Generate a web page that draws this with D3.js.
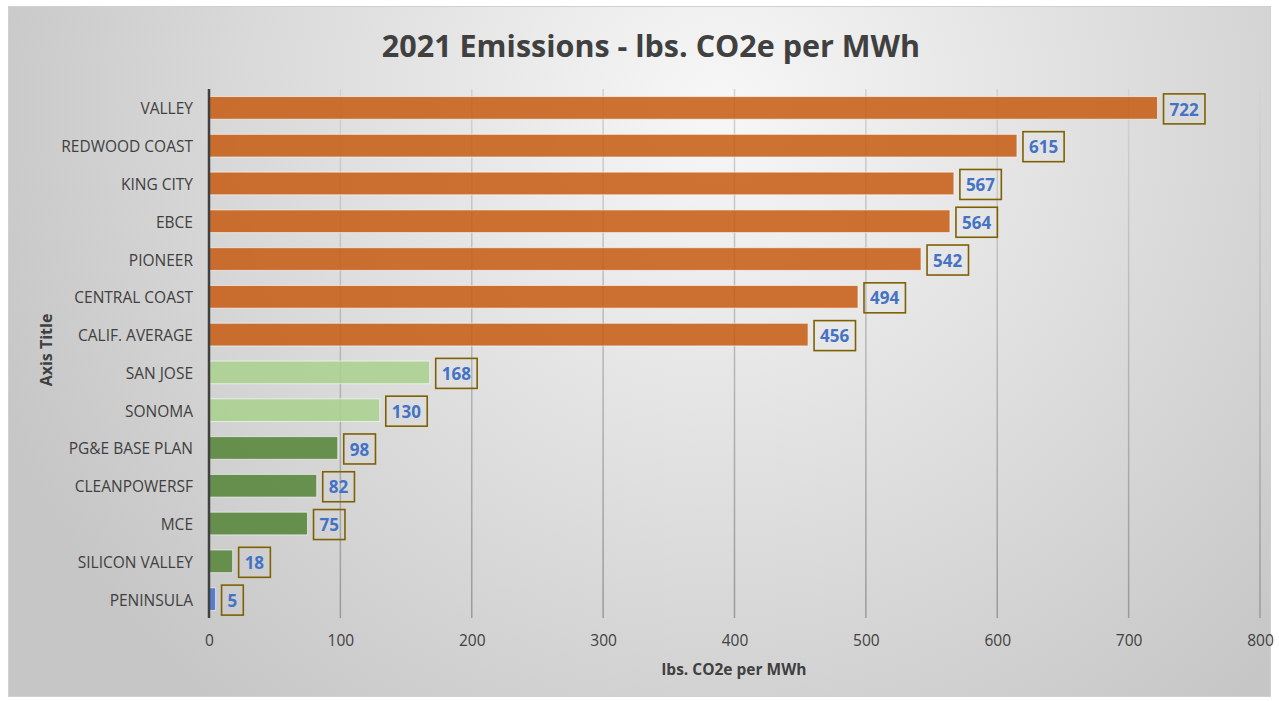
<!DOCTYPE html>
<html><head><meta charset="utf-8">
<script src="https://cdn.jsdelivr.net/npm/d3@7"></script>
<style>body{margin:0;background:#fff}svg{display:block}</style>
</head><body>
<script>
const categories = ["VALLEY","REDWOOD COAST","KING CITY","EBCE","PIONEER","CENTRAL COAST","CALIF. AVERAGE","SAN JOSE","SONOMA","PG&E BASE PLAN","CLEANPOWERSF","MCE","SILICON VALLEY","PENINSULA"];
const values = [722,615,567,564,542,494,456,168,130,98,82,75,18,5];
const groups = ["high","high","high","high","high","high","high","mid","mid","low","low","low","low","min"];
const xTicks = [0,100,200,300,400,500,600,700,800];
const colors = {high:"#C55A11", mid:"#A9D18E", low:"#548235", min:"#4472C4"};

const W=1279,H=701;
const svg=d3.select("body").append("svg").attr("width",W).attr("height",H);
const defs=svg.append("defs");
const rg=defs.append("radialGradient").attr("id","bg").attr("gradientUnits","userSpaceOnUse")
  .attr("cx",720).attr("cy",110).attr("r",780);
rg.append("stop").attr("offset","0").attr("stop-color","#f7f7f7");
rg.append("stop").attr("offset","1").attr("stop-color","#c6c6c6");
const gg=defs.append("linearGradient").attr("id","grid").attr("gradientUnits","userSpaceOnUse")
  .attr("x1",0).attr("y1",90).attr("x2",0).attr("y2",618);
gg.append("stop").attr("offset","0").attr("stop-color","#d2d2d2");
gg.append("stop").attr("offset","1").attr("stop-color","#9a9a9a");

svg.append("rect").attr("x",8.5).attr("y",6.5).attr("width",1262).attr("height",690)
  .attr("fill","url(#bg)").attr("stroke","#d0d0d0").attr("stroke-width",1);

const x=d3.scaleLinear().domain([0,800]).range([209,1260]);
const y=d3.scaleBand().domain(categories).range([89,618]).paddingInner(0.4).paddingOuter(0.2);

// gridlines
svg.append("g").selectAll("line").data(xTicks.filter(d=>d>0)).join("line")
  .attr("x1",d=>x(d)).attr("x2",d=>x(d)).attr("y1",89).attr("y2",618)
  .attr("stroke","url(#grid)").attr("stroke-width",1.5);

// bars
svg.append("g").selectAll("rect").data(categories).join("rect")
  .attr("x",x(0)).attr("y",d=>y(d)).attr("height",y.bandwidth())
  .attr("width",(d,i)=>x(values[i])-x(0))
  .attr("fill",(d,i)=>colors[groups[i]]).attr("fill-opacity",0.85)
  .attr("stroke","#ffffff").attr("stroke-opacity",0.6).attr("stroke-width",1);

// axis line
svg.append("line").attr("x1",x(0)).attr("x2",x(0)).attr("y1",89).attr("y2",618)
  .attr("stroke","#404040").attr("stroke-width",2.5);

// category labels
const yAxis=d3.axisLeft(y).tickSize(0).tickPadding(16);
const ya=svg.append("g").attr("transform",`translate(${x(0)},1.5)`).call(yAxis);
ya.select(".domain").remove();
ya.selectAll("text").attr("font-family","Open Sans, sans-serif").attr("font-size",15.5).attr("fill","#404040");

// x axis tick labels
const xAxis=d3.axisBottom(x).tickValues(xTicks).tickSize(0).tickPadding(17);
const xa=svg.append("g").attr("transform","translate(0,618)").call(xAxis);
xa.select(".domain").remove();
xa.selectAll("text").attr("font-family","Open Sans, sans-serif").attr("font-size",15.5).attr("fill","#404040");

// data labels
const lab=svg.append("g").selectAll("g").data(categories).join("g");
lab.each(function(d,i){
  const g=d3.select(this);
  const t=g.append("text").attr("x",x(values[i])+12).attr("y",y(d)+y.bandwidth()/2+1.5)
    .attr("dy","0.36em").attr("font-family","Open Sans, sans-serif").attr("font-weight",700)
    .attr("font-size",17).attr("fill","#4472C4").text(values[i]);
  const bb=t.node().getBBox();
  g.insert("rect","text").attr("x",x(values[i])+6).attr("y",y(d)+y.bandwidth()/2-14)
    .attr("width",bb.width+12).attr("height",30)
    .attr("fill","none").attr("stroke","#7F6000").attr("stroke-width",1.6);
});

// title
svg.append("text").attr("x",651).attr("y",57).attr("text-anchor","middle")
  .attr("font-family","Open Sans, sans-serif").attr("font-weight",700).attr("font-size",30.5)
  .attr("fill","#404040").text("2021 Emissions - lbs. CO2e per MWh");

svg.append("text").attr("x",734).attr("y",675).attr("text-anchor","middle")
  .attr("font-family","Open Sans, sans-serif").attr("font-weight",700).attr("font-size",15.5)
  .attr("fill","#404040").text("lbs. CO2e per MWh");

svg.append("text").attr("transform","translate(52,350) rotate(-90)").attr("text-anchor","middle")
  .attr("font-family","Open Sans, sans-serif").attr("font-weight",700).attr("font-size",16)
  .attr("fill","#404040").text("Axis Title");
</script>
</body></html>
